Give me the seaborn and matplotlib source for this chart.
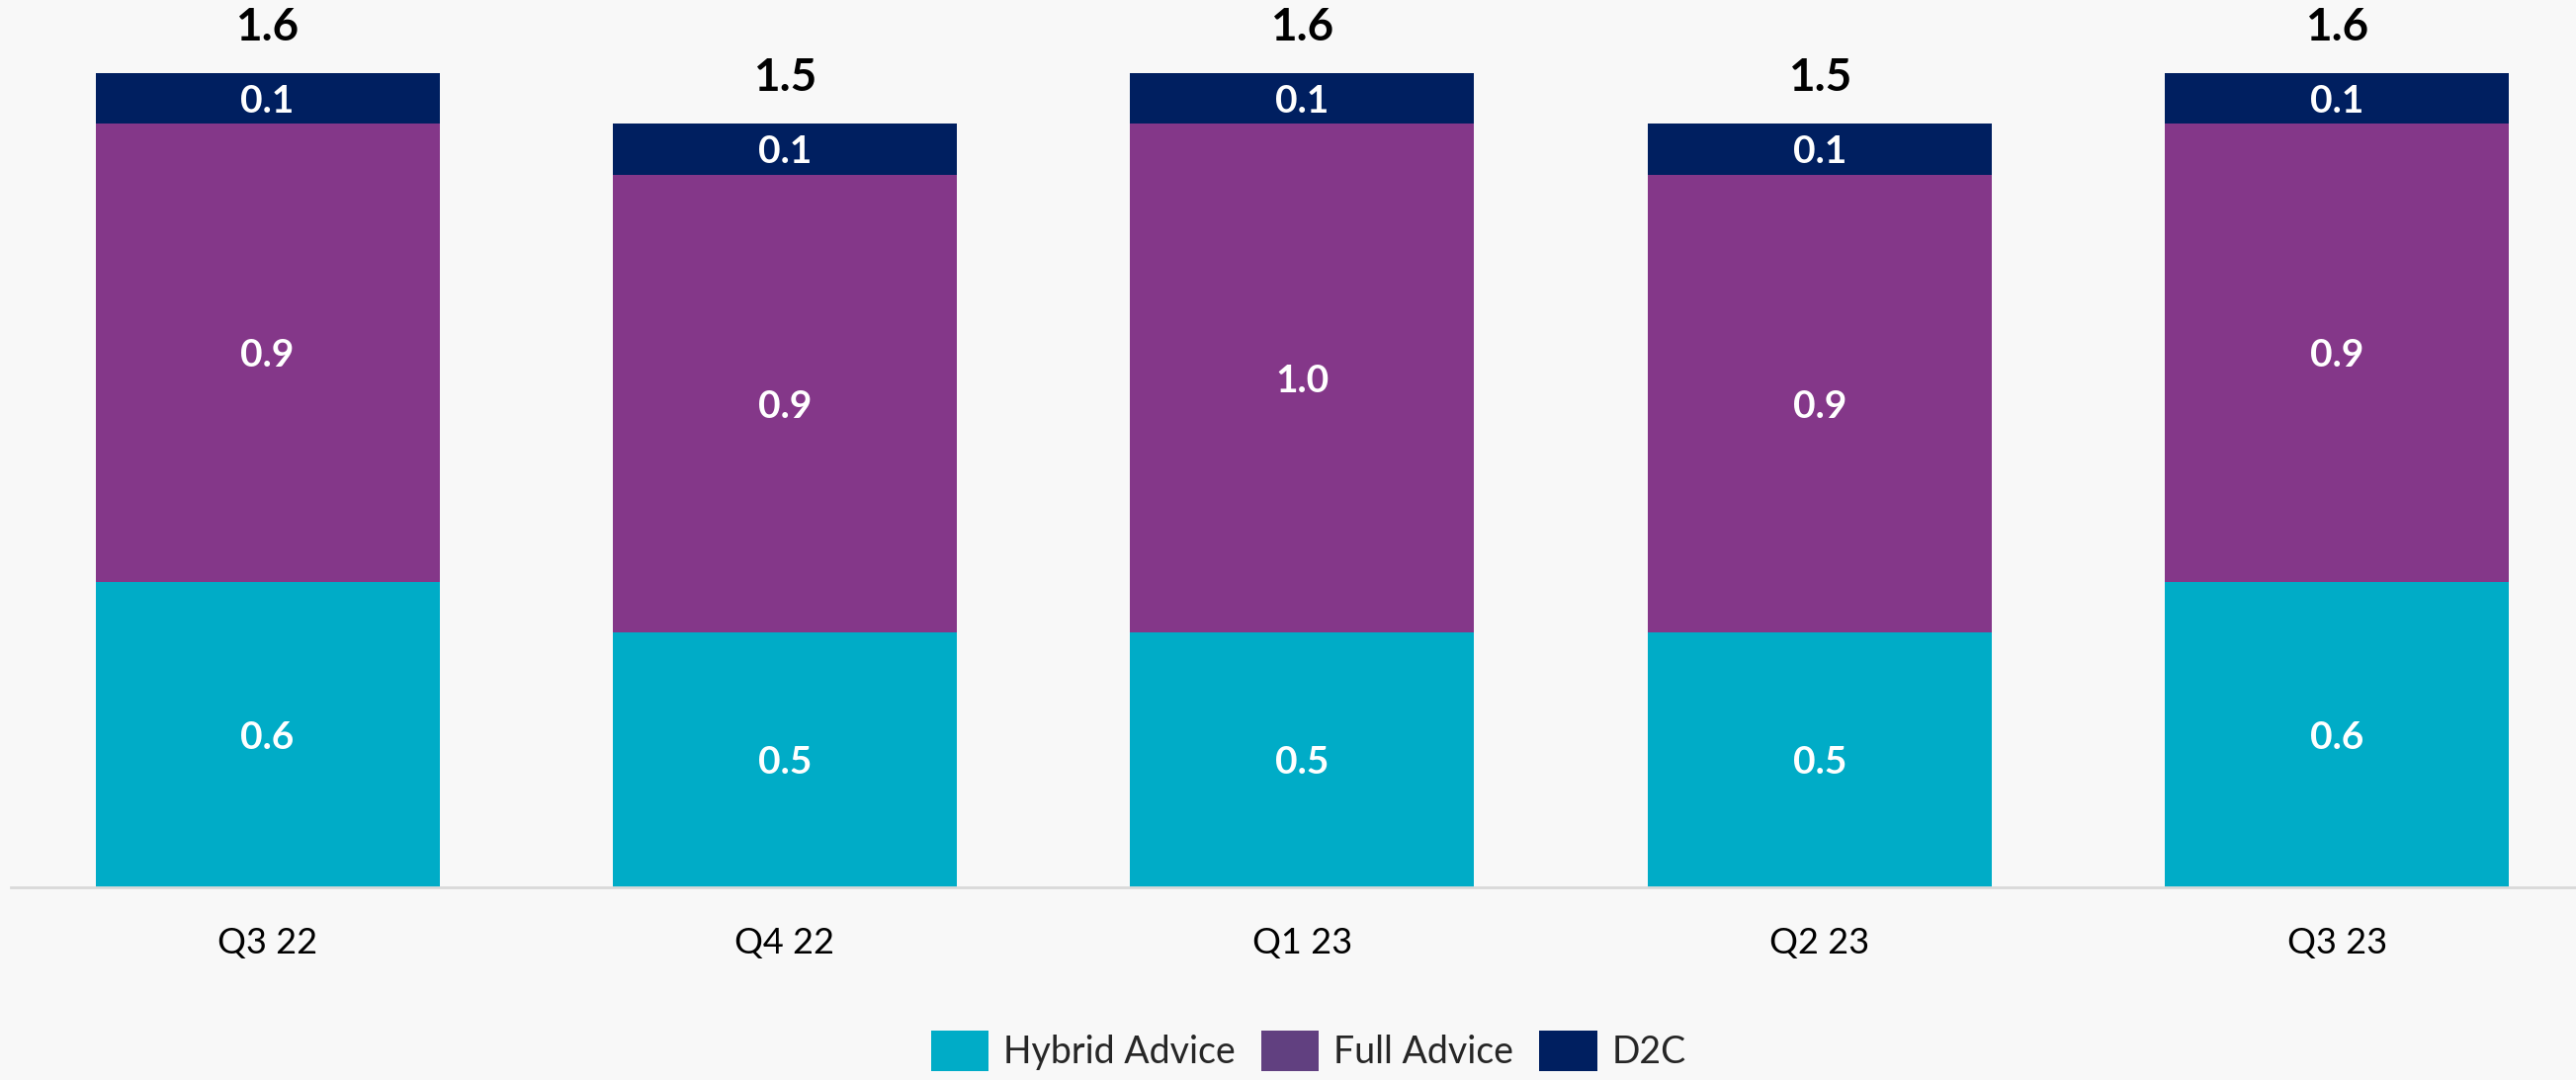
import numpy as np
import pandas as pd
import matplotlib
matplotlib.use("Agg")
import matplotlib.pyplot as plt
from matplotlib.patches import Patch
import seaborn as sns

quarters = ["Q3 22", "Q4 22", "Q1 23", "Q2 23", "Q3 23"]
hybrid_advice = [0.6, 0.5, 0.5, 0.5, 0.6]
full_advice = [0.9, 0.9, 1.0, 0.9, 0.9]
d2c = [0.1, 0.1, 0.1, 0.1, 0.1]
series_names = ["Hybrid Advice", "Full Advice", "D2C"]

bar_colors = ["#00ACC7", "#843789", "#001F60"]
legend_colors = ["#00ACC7", "#614080", "#001F60"]
bg = "#F8F8F8"

sns.set_theme(style="white")
plt.rcParams["font.family"] = ["Lato", "DejaVu Sans"]

df = pd.DataFrame({"quarter": quarters, "hybrid": hybrid_advice,
                   "full": full_advice, "d2c": d2c})
df["cum1"] = df["hybrid"]
df["cum2"] = df["hybrid"] + df["full"]
df["total"] = df["cum2"] + df["d2c"]

fig = plt.figure(figsize=(26.06, 10.93), dpi=100, facecolor=bg)
ax = fig.add_axes([0.0042, 0.1784, 0.9958, 0.8216])
ax.set_facecolor(bg)

# stacked bars drawn back-to-front as cumulative heights
for col, color in zip(["total", "cum2", "cum1"], bar_colors[::-1]):
    sns.barplot(data=df, x="quarter", y=col, color=color, width=0.665,
                saturation=1, linewidth=0, ax=ax, order=quarters)

ax.set_xlim(-0.496, 4.462)
ax.set_ylim(0, 1.743)

# segment labels and totals
for i in range(len(quarters)):
    bottoms = [0, df["cum1"][i], df["cum2"][i]]
    vals = [hybrid_advice[i], full_advice[i], d2c[i]]
    for b, v in zip(bottoms, vals):
        ax.annotate(f"{v:.1f}", (i, b + v / 2), xytext=(0, -2),
                    textcoords="offset points", ha="center", va="center",
                    color="white", fontsize=28, fontweight="bold")
    ax.annotate(f"{df['total'][i]:.1f}", (i, df["total"][i]),
                xytext=(0, 18), textcoords="offset points",
                ha="center", va="bottom", fontsize=33, fontweight="bold",
                color="black")

for s in ["top", "right", "left"]:
    ax.spines[s].set_visible(False)
ax.spines["bottom"].set_color("#D9D9D9")
ax.spines["bottom"].set_linewidth(2)
ax.set_yticks([])
ax.set_xlabel("")
ax.set_ylabel("")
ax.tick_params(axis="x", length=0, pad=29, labelsize=26, labelcolor="black")

handles = [Patch(facecolor=c, edgecolor="none", label=n)
           for c, n in zip(legend_colors, series_names)]
fig.legend(handles=handles, loc="center", bbox_to_anchor=(0.508, 0.027),
           ncol=3, frameon=False, fontsize=27, handlelength=1.55,
           handleheight=1.3, handletextpad=0.4, columnspacing=0.7)

fig.savefig("out.png", dpi=100, facecolor=bg)
